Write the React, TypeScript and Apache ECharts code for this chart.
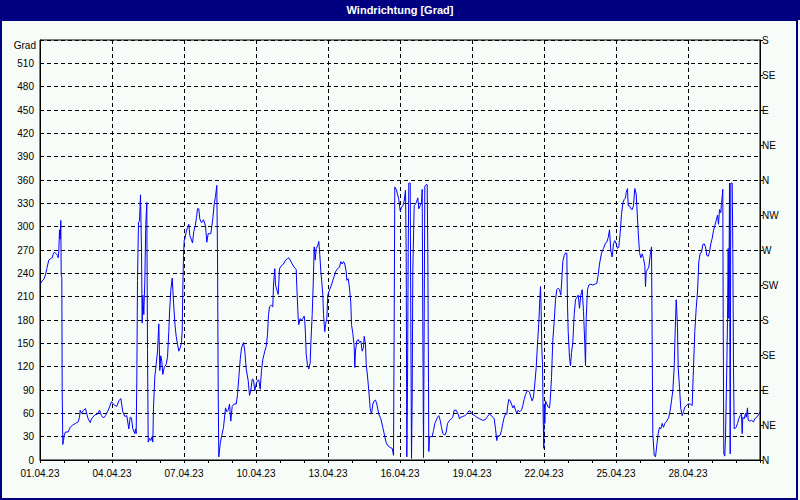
import React, { useEffect, useRef } from "react";
import * as echarts from "echarts";

// hours since 01.04.23 00:00
const hours: number[] = [
  0.2, 1.5, 4, 5.5, 6.8, 8.8, 10.8, 12.2, 13.5, 14.8, 16.2, 17.5, 18.2, 18.8, 19.5, 20.2, 20.8, 21.2, 21.8, 22.2, 22.8, 23.5, 24.2, 25.5, 28.2, 30.2, 32.8, 35.5, 38.2, 39.5, 40.2, 41.5, 43.5, 45.5, 46.8, 48.2, 50.2, 51.5, 54.8, 57.5, 59.5, 61.5, 63.5, 65.5, 67.5, 69.5, 71.5, 72.8, 74.8, 76.8, 78.8, 80.8, 82.8, 84.8, 86.8, 88.8, 90.2, 91.5, 92.8, 94.8, 95.5, 96.2, 96.8, 97.5, 98.5, 99.5, 100.5, 101.5, 102.2, 102.8, 103.8, 104.8, 105.8, 106.8, 107.5, 108.2, 109.5, 110.8, 112.2, 112.8, 113.5, 114.8, 116.2, 117.5, 118.8, 119.8, 120.8, 121.8, 122.8, 124.2, 126.2, 127.5, 128.8, 129.5, 130.8, 132.2, 133.2, 134.2, 135.2, 136.2, 137.5, 138.8, 140.2, 141.5, 142.2, 142.8, 143.5, 144.2, 144.8, 146.2, 147.5, 148.8, 149.8, 151.2, 152.5, 153.8, 155.2, 156.5, 157.5, 158.8,
  159.8, 161.5, 163.5, 165.5, 166.8, 168.2, 170.8, 172.8, 174.2, 175.5, 176.8, 177.5, 178.2, 178.8, 180.2, 181.5, 183.5, 185.5, 186.8, 188.2, 189.5, 190.8, 192.2, 194.2, 196.2, 197.5, 198.8, 200.2, 201.5, 203.5, 204.8, 206.2, 208.2, 209.5, 210.8, 212.2, 213.5, 214.8, 216.2, 217.5, 218.8, 220.2, 221.5, 222.8, 224.8, 226.2, 227.5, 228.5, 229.5, 231.5, 232.8, 233.5, 234.8, 235.5, 236.8, 238.2, 239.5, 241.5, 243.5, 245.5, 247.5, 248.8, 250.2, 252.2, 254.2, 256.2, 256.8, 258.2, 258.8, 260.2, 261.5, 262.8, 264.2, 264.8, 265.5, 266.2, 267.5, 268.8, 270.2, 270.8, 272.2, 273.2, 274.2, 275.2, 276.2, 277.5, 278.8, 279.8, 280.8, 281.8, 282.8, 283.5, 284.8, 285.5, 286.8, 287.8, 288.8, 290.2, 291.5, 292.8, 294.2, 295.5, 297.5, 299.5, 300.8, 302.2, 303.5, 304.8, 306.2, 306.8, 308.2, 309.5, 310.8, 311.5, 312.8, 314.2, 314.8, 315.5, 316.8, 318.2, 319.5, 320.8, 322.2, 323.5, 324.2, 325.5, 326.2, 327.5, 328.8, 330.2, 331.5, 332.8, 334.2, 335.5, 336.8, 338.8,
  340.8, 342.8, 344.8, 346.2, 348.2, 350.2, 352.2, 353.5, 354.2, 354.8, 356.5, 358.8, 360.2, 361.5, 362.8, 364.2, 365.5, 366.2, 366.8, 367.5, 368.2, 368.8, 370.2, 370.8, 371.5, 372.2, 372.8, 374.2, 375.5, 376.8, 377.8, 378.8, 380.2, 381.5, 382.2, 382.8, 383.5, 384.2, 384.8, 386.2, 387.2, 387.8, 388.5, 388.8, 389.5, 392.2, 393.5, 394.8, 396.2, 397.5, 398.8, 400.2, 401.5, 402.8, 404.8, 406.2, 407.5, 409.5, 411.5, 412.8, 414.2, 416.2, 418.2, 419.5, 420.8, 422.8, 424.8, 426.8, 428.8, 430.2, 432.2, 434.8, 436.8, 439.5, 442.8, 445.5, 447.5, 449.5, 451.5, 452.8, 454.2, 455.5, 456.8, 457.5, 458.8, 460.2, 461.5, 462.8, 464.2, 465.5, 466.8, 467.5, 468.8, 470.2, 471.5, 472.8, 474.2, 475.5, 476.8, 478.2, 479.5, 481.5, 482.8, 484.2, 485.5, 486.8, 488.2, 489.5, 490.8, 492.2, 493.5, 494.8, 496.2, 497.5, 498.8, 499.8, 500.5, 501.2, 501.8, 502.5, 503.2, 503.8, 504.2, 504.8, 505.5, 506.8, 508.2, 509.5, 510.2, 511.5, 512.8, 514.2, 515.5, 516.8, 518.2,
  519.5, 520.8, 521.5, 522.8, 524.2, 525.5, 526.8, 527.5, 528.2, 529.5, 530.5, 531.5, 532.8, 534.2, 535.5, 536.8, 538.2, 539.5, 540.8, 542.2, 543.5, 544.8, 545.5, 546.2, 547.5, 548.8, 550.8, 552.8, 554.8, 556.8, 558.2, 559.5, 561.5, 563.5, 565.5, 566.8, 568.2, 569.5, 570.8, 572.2, 573.5, 574.8, 576.2, 577.5, 578.8, 580.2, 581.5, 582.8, 584.2, 585.5, 586.2, 587.5, 588.2, 589.5, 590.8, 592.2, 593.5, 594.8, 596.2, 596.8, 598.2, 599.5, 600.8, 602.2, 603.5, 604.8, 605.5, 606.2, 607.5, 608.8, 610.2, 611.5, 612.2, 612.8, 614.2, 615.5, 616.8, 618.2, 619.5, 620.8, 622.2, 623.5, 624.8, 626.8, 628.8, 630.2, 631.5, 632.8, 634.2, 634.8, 635.5, 636.2, 636.8, 637.5, 638.2, 639.5, 640.8, 642.2, 643.5, 644.8, 646.2, 648.2, 650.2, 652.2, 653.5, 654.8, 656.2, 657.5, 658.8, 660.2, 661.5, 662.8, 664.2, 665.5, 666.8, 668.2, 669.5, 670.8, 672.2, 673.5, 674.8, 676.2, 677.5, 678.5, 679.5, 680.8, 681.5, 682.2, 682.8, 683.2, 683.8, 684.8, 685.5, 686.8, 687.5, 688.2, 688.8, 689.5, 690.2, 690.8, 692.2, 692.8, 693.5, 694.2, 696.2, 697.5, 698.8, 700.2, 701.5, 702.2, 702.8, 704.2, 705.5, 706.2, 707.5, 708.2, 709.5, 711.5, 713.5, 714.8, 716.8, 718.8, 720,
];

// wind direction in degrees
const degrees: number[] = [
  226, 229, 233, 238, 246, 257, 259, 260, 266, 267, 265, 263, 260, 269, 296, 284, 308, 238, 235, 91, 20, 25, 32, 36, 36, 42, 45, 47, 49, 55, 64, 60, 64, 66, 59, 53, 48, 53, 58, 59, 64, 57, 54, 57, 62, 68, 75, 73, 70, 69, 76, 79, 62, 56, 57, 40, 55, 54, 40, 34, 40, 34, 101, 231, 306, 307, 341, 267, 176, 212, 187, 229, 303, 331, 142, 23, 28, 25, 30, 23, 68, 107, 123, 140, 175, 115, 134, 127, 110, 119, 123, 132, 165, 189, 218, 234, 211, 189, 171, 159, 149, 140, 144, 151, 166, 218, 263, 282, 284, 293, 299, 303, 289, 284, 279, 294, 301, 312, 323, 323,
  310, 305, 309, 301, 280, 291, 291, 310, 329, 339, 353, 265, 90, 4, 21, 30, 42, 67, 62, 64, 72, 50, 69, 72, 72, 84, 106, 129, 144, 151, 140, 117, 102, 83, 89, 104, 103, 89, 98, 102, 103, 91, 115, 129, 140, 146, 161, 187, 197, 199, 197, 225, 246, 225, 219, 213, 246, 250, 252, 257, 259, 260, 257, 252, 248, 245, 223, 182, 174, 182, 180, 182, 185, 178, 161, 136, 122, 117, 125, 149, 187, 225, 274, 257, 272, 275, 281, 264, 243, 229, 212, 187, 165, 174, 182, 212, 216, 221, 225, 231, 236, 242, 246, 248, 255, 252, 255, 252, 242, 231, 233, 221, 202, 174, 163, 146, 119, 140, 153, 155, 151, 153, 140, 145, 159, 149, 123, 108, 89, 66, 59, 72, 76, 77, 72, 59,
  53, 42, 30, 22, 18, 16, 15, 6, 180, 351, 347, 335, 320, 325, 327, 333, 347, 267, 4, 93, 267, 356, 356, 178, 2, 81, 244, 327, 329, 333, 337, 323, 327, 331, 348, 178, 3, 178, 352, 354, 354, 267, 98, 11, 30, 30, 38, 47, 51, 55, 57, 51, 42, 34, 32, 36, 47, 51, 53, 55, 64, 64, 59, 53, 55, 56, 57, 59, 63, 63, 59, 57, 55, 53, 51, 52, 56, 59, 57, 55, 53, 40, 25, 31, 31, 32, 38, 47, 55, 59, 59, 68, 78, 76, 72, 67, 70, 64, 60, 64, 62, 64, 70, 78, 84, 88, 89, 87, 81, 76, 81, 98, 119, 149, 176, 206, 223, 191, 144, 123, 53, 15, 72, 47, 76, 72, 68, 67, 76, 106, 154, 178, 206, 219, 221,
  219, 212, 225, 255, 263, 266, 266, 199, 165, 132, 121, 138, 151, 187, 206, 209, 212, 195, 212, 219, 191, 149, 121, 182, 219, 225, 226, 225, 226, 227, 238, 252, 266, 272, 279, 280, 286, 296, 269, 261, 278, 282, 278, 272, 274, 292, 316, 330, 335, 337, 344, 349, 327, 327, 323, 322, 327, 349, 342, 327, 293, 267, 260, 265, 259, 250, 223, 242, 245, 248, 263, 274, 149, 34, 6, 4, 19, 34, 42, 40, 47, 42, 47, 50, 55, 64, 76, 89, 119, 149, 178, 206, 191, 170, 119, 93, 66, 57, 62, 68, 70, 72, 72, 70, 119, 165, 195, 216, 255, 266, 267, 277, 278, 274, 263, 262, 267, 278, 285, 295, 301, 308, 315, 303, 322, 318, 331, 339, 348, 182, 8, 5, 30, 119, 182, 272, 182, 356, 8, 356, 356, 272, 119, 40, 42, 47, 53, 57, 59, 34, 55, 53, 60, 55, 67, 51, 50, 51, 49, 53, 55, 59, 62,
];

const compass: string[] = ["N", "NE", "E", "SE", "S", "SW", "W", "NW"];
const titleText = "Windrichtung [Grad]";
const unitText = "Grad";

export default function App() {
  const ref = useRef<HTMLDivElement>(null);
  useEffect(() => {
    if (!ref.current) return;
    const chart = echarts.init(ref.current, undefined, { renderer: "svg" });
    const data = hours.map((h, i) => [h, degrees[i]]);
    const font = "Liberation Sans, Arial, sans-serif";
    chart.setOption({
      animation: false,
      backgroundColor: "#f8fcf8",
      textStyle: { fontFamily: font },
      grid: {
        left: 40,
        right: 40,
        top: 40,
        bottom: 40,
        show: true,
        borderColor: "#000",
        borderWidth: 1,
        containLabel: false,
      },
      xAxis: {
        type: "value",
        min: 0,
        max: 720,
        interval: 72,
        axisLine: { show: true, lineStyle: { color: "#000", width: 1 } },
        axisTick: { show: true, length: 3, lineStyle: { color: "#000" } },
        minorTick: { show: true, splitNumber: 3, length: 3, lineStyle: { color: "#000" } },
        axisLabel: {
          color: "#000",
          fontSize: 10,
          fontFamily: font,
          margin: 8,
          showMaxLabel: false,
          formatter: (v: number) => {
            const d = Math.round(v / 24) + 1;
            return (d < 10 ? "0" + d : "" + d) + ".04.23";
          },
        },
        splitLine: { show: true, lineStyle: { color: "#000", type: [4, 3], width: 1 } },
      },
      yAxis: [
        {
          type: "value",
          min: 0,
          max: 540,
          interval: 30,
          position: "left",
          axisLine: { show: true, lineStyle: { color: "#000" } },
          axisTick: { show: false },
          axisLabel: {
            color: "#000",
            fontSize: 10,
            fontFamily: font,
            margin: 6,
            showMaxLabel: false,
          },
          splitLine: { show: true, lineStyle: { color: "#000", type: [4, 3], width: 1 } },
        },
        {
          type: "value",
          min: 0,
          max: 540,
          interval: 45,
          position: "right",
          axisLine: { show: true, lineStyle: { color: "#000" } },
          axisTick: { show: true, length: 3, lineStyle: { color: "#000" } },
          axisLabel: {
            color: "#000",
            fontSize: 10,
            fontFamily: font,
            margin: 2,
            formatter: (v: number) => compass[Math.round(v / 45) % 8],
          },
          splitLine: { show: false },
        },
      ],
      series: [
        {
          type: "line",
          data,
          yAxisIndex: 0,
          showSymbol: false,
          symbol: "none",
          lineStyle: { color: "#0000ff", width: 1 },
          itemStyle: { color: "#0000ff" },
          silent: true,
        },
      ],
      graphic: [
        {
          type: "rect",
          left: 0,
          top: 0,
          shape: { x: 0, y: 0, width: 800, height: 20 },
          style: { fill: "#000080" },
          silent: true,
        },
        {
          type: "rect",
          shape: { x: 1, y: 20, width: 796, height: 479 },
          style: { fill: "none", stroke: "#000080", lineWidth: 2 },
          silent: true,
        },
        {
          type: "text",
          x: 400,
          y: 10,
          style: {
            text: titleText,
            fill: "#fff",
            font: "bold 11px Liberation Sans, Arial, sans-serif",
            align: "center",
            verticalAlign: "middle",
          },
          silent: true,
        },
        {
          type: "text",
          x: 36,
          y: 45,
          style: {
            text: unitText,
            fill: "#000",
            font: "10px Liberation Sans, Arial, sans-serif",
            align: "right",
            verticalAlign: "middle",
          },
          silent: true,
        },
      ],
    });
    return () => chart.dispose();
  }, []);
  return (
    <div
      ref={ref}
      style={{ position: "absolute", left: 0, top: 0, width: 800, height: 500 }}
    />
  );
}
